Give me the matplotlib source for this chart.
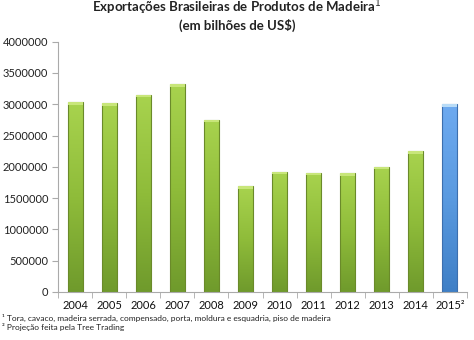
import matplotlib
matplotlib.use("Agg")
import matplotlib.pyplot as plt
import numpy as np
from matplotlib.colors import LinearSegmentedColormap

years = ["2004", "2005", "2006", "2007", "2008", "2009", "2010", "2011", "2012", "2013", "2014", "2015²"]
values = [3030000, 3020000, 3150000, 3320000, 2750000, 1690000, 1920000, 1905000, 1895000, 2000000, 2250000, 3000000]
projected = [False] * 11 + [True]
yticks = [0, 500000, 1000000, 1500000, 2000000, 2500000, 3000000, 3500000, 4000000]

plt.rcParams['font.family'] = ['Lato', 'DejaVu Sans']

fig = plt.figure(figsize=(4.74, 3.40), dpi=100)
ax = fig.add_axes([58/474, 1 - 292/340, (467-58)/474, (292-41.7)/340])

x = np.arange(len(years))
green_cmap = LinearSegmentedColormap.from_list("g", ["#6f9a2c", "#8fbc3a", "#a8d34e"])
blue_cmap = LinearSegmentedColormap.from_list("b", ["#3f7fc6", "#5a9ae0", "#6eaaf0"])
bars = ax.bar(x, values, width=0.44, color="none", edgecolor="none", zorder=2)
grad = np.linspace(0, 1, 256).reshape(-1, 1)
for b, proj in zip(bars, projected):
    x0, y0 = b.get_x(), b.get_y()
    w, h = b.get_width(), b.get_height()
    cmap = blue_cmap if proj else green_cmap
    im = ax.imshow(grad, extent=[x0, x0 + w, y0, y0 + h], origin="lower",
                   cmap=cmap, aspect="auto", zorder=2)
    im.set_clip_path(b)
    edge = "#3d6fae" if proj else "#6a8a2a"
    ax.add_patch(plt.Rectangle((x0, y0), w, h, fill=False, edgecolor=edge, lw=0.8, zorder=3))
    cap = "#b9dcf7" if proj else "#c8e67a"
    ax.add_patch(plt.Rectangle((x0, y0 + h - 40000), w, 40000, color=cap, lw=0, zorder=3))

ax.set_xlim(-0.5, len(years) - 0.5)
ax.set_ylim(0, 4000000)
ax.set_yticks(yticks)
ax.set_yticklabels([str(v) for v in yticks], fontsize=8, color="#222222")
ax.set_xticks(x)
ax.set_xticklabels(years, fontsize=8, color="#111111")
ax.set_xticks(np.arange(-0.5, len(years), 1), minor=True)
ax.tick_params(axis="x", which="major", length=0, pad=6)
ax.tick_params(axis="x", which="minor", length=4, color="#aaaaaa")
ax.tick_params(axis="y", length=4, color="#aaaaaa", pad=3)
for s in ["top", "right"]:
    ax.spines[s].set_visible(False)
ax.spines["left"].set_color("#aaaaaa")
ax.spines["bottom"].set_color("#aaaaaa")

fig.text(0.5, 1 - 8/340, "Exportações Brasileiras de Produtos de Madeira$^{1}$", ha="center", va="center",
         fontsize=9.5, fontweight="bold", color="#222222")
fig.text(0.5, 1 - 25/340, "(em bilhões de US$)", ha="center", va="center",
         fontsize=9.5, fontweight="bold", color="#222222")

fig.text(2/474, 1 - 317.5/340, "¹ Tora, cavaco, madeira serrada, compensado, porta, moldura e esquadria, piso de madeira",
         fontsize=6, va="center", ha="left", color="#222222")
fig.text(2/474, 1 - 327/340, "² Projeção feita pela Tree Trading",
         fontsize=6, va="center", ha="left", color="#222222")

fig.savefig("out.png", dpi=100)
